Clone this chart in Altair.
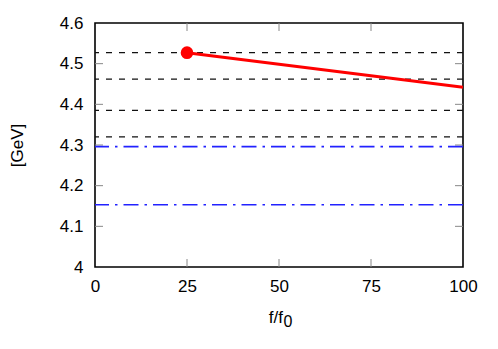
import altair as alt
import pandas as pd

# data
dashed_levels = [4.527, 4.462, 4.385, 4.320]
dashdot_levels = [4.296, 4.153]
line_x = [25, 100]
line_y = [4.527, 4.442]
point_x = [25]
point_y = [4.527]
x_ticks = [0, 25, 50, 75, 100]
y_ticks = [4.0, 4.1, 4.2, 4.3, 4.4, 4.5, 4.6]
x_title_main = "f/f"
x_title_sub = "0"
y_title = "[GeV]"

W, H = 368, 244
FONT = "Liberation Sans"
FS = 17

xs = alt.Scale(domain=[0, 100], nice=False, zero=False)
ys = alt.Scale(domain=[4.0, 4.6], nice=False, zero=False)

dashed_df = pd.DataFrame({"y": dashed_levels})
dashdot_df = pd.DataFrame({"y": dashdot_levels})
line_df = pd.DataFrame({"x": line_x, "y": line_y})
pt_df = pd.DataFrame({"x": point_x, "y": point_y})
xt_df = pd.DataFrame({"x": x_ticks[1:-1]})
yt_df = pd.DataFrame({"y": y_ticks[1:-1]})

xaxis = alt.Axis(values=x_ticks, ticks=False, domain=False, grid=False,
                 labelFont=FONT, labelFontSize=FS, labelColor="black",
                 labelPadding=11, labelFlush=False, labelOverlap=False, title=None)
yaxis = alt.Axis(values=y_ticks, ticks=False, domain=False, grid=False,
                 labelFont=FONT, labelFontSize=FS, labelColor="black",
                 labelPadding=12, labelFlush=False, labelOverlap=False,
                 labelExpr="datum.value == 4 ? '4' : format(datum.value, '.1f')",
                 title=y_title, titleFont=FONT, titleFontSize=FS,
                 titleFontWeight="normal", titleColor="black",
                 titleX=-78, titleY=H / 2, titleBaseline="middle", titleAlign="center",
                 titleAngle=-90)

base_axes = alt.Chart(line_df).mark_line(color="red", strokeWidth=3).encode(
    x=alt.X("x:Q", scale=xs, axis=xaxis),
    y=alt.Y("y:Q", scale=ys, axis=yaxis),
)

dashed = alt.Chart(dashed_df).mark_rule(color="#111111", strokeWidth=1.3,
                                        strokeDash=[6, 7]).encode(
    y=alt.Y("y:Q", scale=ys))
dashdot = alt.Chart(dashdot_df).mark_rule(color="#2222ff", strokeWidth=1.6,
                                          strokeDash=[15, 6, 2.5, 6]).encode(
    y=alt.Y("y:Q", scale=ys))

pt = alt.Chart(pt_df).mark_point(filled=True, color="red", size=160, opacity=1).encode(
    x=alt.X("x:Q", scale=xs), y=alt.Y("y:Q", scale=ys))

tick_color = "#888888"
xt_bot = alt.Chart(xt_df).mark_rule(color=tick_color, strokeWidth=1).encode(
    x=alt.X("x:Q", scale=xs), y=alt.value(H), y2=alt.value(H - 8))
xt_top = alt.Chart(xt_df).mark_rule(color=tick_color, strokeWidth=1).encode(
    x=alt.X("x:Q", scale=xs), y=alt.value(0), y2=alt.value(8))
yt_left = alt.Chart(yt_df).mark_rule(color=tick_color, strokeWidth=1).encode(
    y=alt.Y("y:Q", scale=ys), x=alt.value(0), x2=alt.value(8))
yt_right = alt.Chart(yt_df).mark_rule(color=tick_color, strokeWidth=1).encode(
    y=alt.Y("y:Q", scale=ys), x=alt.value(W), x2=alt.value(W - 8))

title_df = pd.DataFrame({"t": [x_title_main]})
sub_df = pd.DataFrame({"t": [x_title_sub]})
xtitle_main = alt.Chart(title_df).mark_text(
    font=FONT, fontSize=FS, color="black", align="right", baseline="alphabetic"
).encode(text="t:N", x=alt.value(188), y=alt.value(300))
xtitle_sub = alt.Chart(sub_df).mark_text(
    font=FONT, fontSize=FS - 1, color="black", align="left", baseline="alphabetic"
).encode(text="t:N", x=alt.value(188.5), y=alt.value(304))

chart = alt.layer(
    xt_bot, xt_top, yt_left, yt_right, dashed, dashdot, base_axes, pt,
    xtitle_main, xtitle_sub
).properties(
    width=W, height=H,
    background="white",
    autosize=alt.AutoSizeParams(type="none"),
    padding={"left": 87, "top": 15, "right": 27, "bottom": 60},
).configure_view(
    stroke="black", strokeWidth=1.6
)

chart.save("out.html", embed_options={"renderer": "svg", "actions": False})
